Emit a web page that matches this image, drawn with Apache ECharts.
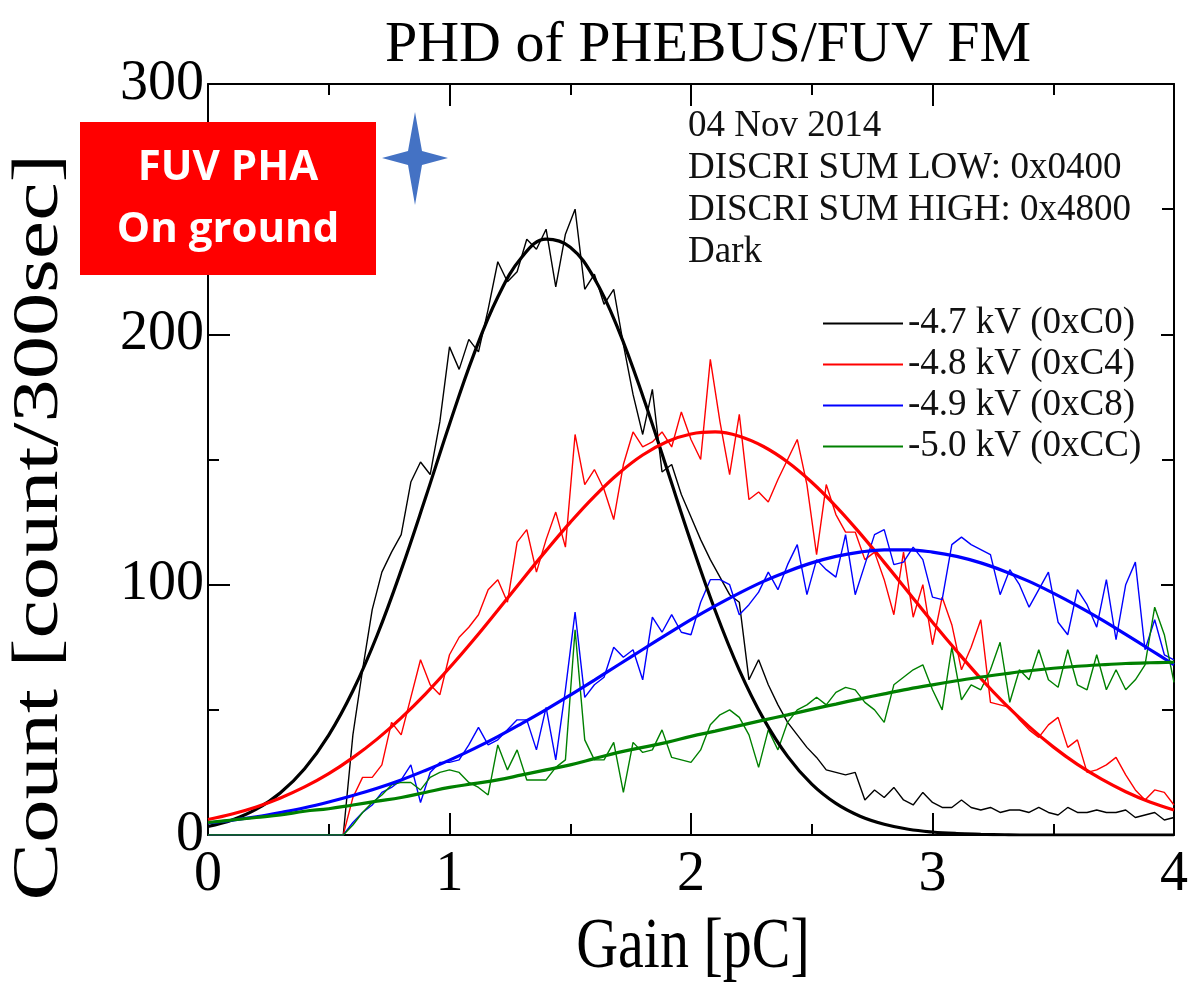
<!DOCTYPE html>
<html><head><meta charset="utf-8">
<script src="https://cdn.jsdelivr.net/npm/echarts@6/dist/echarts.min.js"></script>
<style>html,body{margin:0;padding:0;background:#fff}#c{width:1191px;height:986px}</style>
</head><body><div id="c"></div>
<script>
// Gain axis sampling of the measured histograms (pC)
const gainData = [
0,0.04,0.08,0.12,0.16,0.2,0.24,0.28,0.32,0.36,
0.4,0.44,0.48,0.52,0.56,0.6,0.64,0.68,0.72,0.76,
0.8,0.84,0.88,0.92,0.96,1,1.04,1.08,1.12,1.16,
1.2,1.24,1.28,1.32,1.36,1.4,1.44,1.48,1.52,1.56,
1.6,1.64,1.68,1.72,1.76,1.8,1.84,1.88,1.92,1.96,
2,2.04,2.08,2.12,2.16,2.2,2.24,2.28,2.32,2.36,
2.4,2.44,2.48,2.52,2.56,2.6,2.64,2.68,2.72,2.76,
2.8,2.84,2.88,2.92,2.96,3,3.04,3.08,3.12,3.16,
3.2,3.24,3.28,3.32,3.36,3.4,3.44,3.48,3.52,3.56,
3.6,3.64,3.68,3.72,3.76,3.8,3.84,3.88,3.92,3.96,
4];
const count47 = [
0,0,0,0,0,0,0,0,0,0,
0,0,0,0,0,40,66,90,105,113,
120,141,149,144,165,195,186,198,193,210,
229,221,225,238,234,242,219,240,250,218,
224,212,218,196,176,160,178,145,148,136,
127,118,110,103,96,93,62,70,60,52,
45,40,35,31,26,25,24,25,14,18,
15,19,14,12,17,13,11,11,14,11,
10,11,9,10,10,9,11,9,8,11,
9,9,10,9,9,10,7,8,9,6,
7];
const count48 = [
0,0,0,0,0,0,0,0,0,0,
0,0,0,0,0,15,23,23,28,45,
40,55,70,60,56,72,79,83,88,98,
102,93,117,122,105,118,129,115,160,140,
146,138,126,148,161,155,157,161,155,169,
158,150,190,165,144,168,134,137,133,142,
150,158,140,112,140,128,121,121,110,113,
102,88,113,87,100,76,95,84,66,75,
86,53,52,51,46,42,39,44,47,35,
38,25,26,28,31,24,18,14,18,17,
12];
const count49 = [
0,0,0,0,0,0,0,0,0,0,
0,0,0,0,0,5,9,12,17,19,
22,28,13,25,29,29,30,36,43,36,
38,42,46,46,34,51,30,58,89,55,
60,63,75,71,74,62,87,81,88,81,
80,93,102,102,100,88,92,97,105,98,
108,116,96,110,106,103,120,96,108,120,
122,108,109,115,110,95,94,116,119,116,
114,112,96,106,100,91,98,105,85,80,
98,92,83,102,78,100,109,74,86,72,
70];
const count50 = [
0,0,0,0,0,0,0,0,0,0,
0,0,0,0,0,4,9,13,16,20,
21,21,18,23,25,26,25,21,19,16,
36,26,34,22,22,22,27,30,82,38,
30,30,37,17,37,33,34,42,31,30,
29,34,44,48,50,47,40,27,42,34,
45,50,52,55,52,57,59,58,53,50,
45,60,63,66,68,58,50,75,54,60,
58,66,77,53,66,62,74,62,59,74,
60,58,72,58,66,58,62,68,91,80,
61];
// Fitted curves, read every 0.1 pC
const gainFit = [0,0.1,0.2,0.3,0.4,0.5,0.6,0.7,0.8,0.9,1,1.1,1.2,1.3,1.4,1.5,1.6,1.7,1.8,1.9,2,2.1,2.2,2.3,2.4,2.5,2.6,2.7,2.8,2.9,3,3.1,3.2,3.3,3.4,3.5,3.6,3.7,3.8,3.9,4];
const fit47 = [3.4,6.0,10.3,16.9,26.5,39.9,57.6,79.7,105.8,134.5,164.1,191.8,214.9,230.9,238.0,234.8,222.3,201.7,175.5,146.4,117.0,89.7,65.9,46.5,31.4,20.3,12.6,7.5,4.3,2.3,1.2,0.6,0.3,0.1,0,0,0,0,0,0,0];
const fit48 = [6.2,8.4,11.2,14.8,19.2,24.5,30.9,38.3,46.8,56.3,66.8,78.0,89.8,101.8,113.6,124.9,135.3,144.4,151.8,157.1,160.2,161.0,159.3,155.2,149.0,140.9,131.3,120.5,108.9,97.0,85.0,73.5,62.5,52.4,43.3,35.2,28.2,22.3,17.3,13.2,10.0];
const fit49 = [4.8,5.9,7.3,9.0,10.9,13.2,15.8,18.7,22.0,25.8,29.9,34.4,39.3,44.6,50.1,55.9,61.9,68.0,74.1,80.1,86.0,91.5,96.6,101.3,105.3,108.7,111.3,113.0,113.9,113.9,113.0,111.3,108.7,105.3,101.3,96.6,91.5,86.0,80.1,74.1,68.0];
const fit50 = [5,6,7,8,9.5,10.5,12,13.5,15,17,19,20.5,22,24,26,28,30.5,33,35,37,39.4,41.5,43.7,45.9,48,50.2,52.3,54.4,56.4,58.3,60,61.6,63.1,64.4,65.6,66.6,67.4,68.0,68.5,68.8,69];
const seriesNames = ['-4.7 kV (0xC0)','-4.8 kV (0xC4)','-4.9 kV (0xC8)','-5.0 kV (0xCC)'];
const seriesColors = ['#000000','#ff0000','#0000ff','#008000'];
const xTicks = [0,1,2,3,4];
const yTicks = [0,100,200,300];
const infoLines = ['04 Nov 2014','DISCRI SUM LOW: 0x0400','DISCRI SUM HIGH: 0x4800','Dark'];

const measured = [count47, count48, count49, count50];
const fits = [fit47, fit48, fit49, fit50];
const serif = 'Liberation Serif, Times New Roman, serif';

const series = [];
measured.forEach((arr, k) => {
  series.push({
    name: seriesNames[k], type: 'line', showSymbol: false, symbol: 'none',
    data: gainData.map((g, i) => [g, arr[i]]),
    lineStyle: { color: seriesColors[k], width: 1.4 }, itemStyle: { color: seriesColors[k] },
    z: 2
  });
});
fits.forEach((arr, k) => {
  series.push({
    name: 'fit' + k, type: 'line', showSymbol: false, symbol: 'none', smooth: 0.4,
    data: gainFit.map((g, i) => [g, arr[i]]),
    lineStyle: { color: seriesColors[k], width: 3.2 }, itemStyle: { color: seriesColors[k] },
    z: 3
  });
});

const axisCommon = {
  axisLine: { show: true, onZero: false, lineStyle: { color: '#000', width: 2 } },
  splitLine: { show: false }
};

const chart = echarts.init(document.getElementById('c'));
chart.setOption({
  animation: false,
  backgroundColor: '#fff',
  title: {
    text: 'PHD of PHEBUS/FUV FM', left: 703, top: 12, textAlign: 'center',
    textStyle: { fontFamily: serif, fontSize: 58, fontWeight: 'normal', color: '#000' }
  },
  grid: { left: 208, top: 84, width: 970, height: 751 },
  legend: {
    data: seriesNames, orient: 'vertical', left: 818, top: 300,
    icon: 'rect', itemWidth: 80, itemHeight: 2, itemGap: 4,
    textStyle: { fontFamily: serif, fontSize: 37, color: '#111', lineHeight: 37 }
  },
  xAxis: [
    Object.assign({
      type: 'value', min: xTicks[0], max: xTicks[xTicks.length - 1], interval: 1, position: 'bottom',
      axisTick: { show: true, inside: true, length: 22, lineStyle: { color: '#000', width: 2 } },
      minorTick: { show: true, splitNumber: 2, length: 11, lineStyle: { color: '#000', width: 2 } },
      axisLabel: { fontFamily: serif, fontSize: 56, color: '#000', margin: 12 }
    }, axisCommon),
    Object.assign({
      type: 'value', min: xTicks[0], max: xTicks[xTicks.length - 1], interval: 1, position: 'top',
      axisTick: { show: true, inside: true, length: 22, lineStyle: { color: '#000', width: 2 } },
      minorTick: { show: true, splitNumber: 2, length: 11, lineStyle: { color: '#000', width: 2 } },
      axisLabel: { show: false }
    }, axisCommon)
  ],
  yAxis: [
    Object.assign({
      type: 'value', min: yTicks[0], max: yTicks[yTicks.length - 1], interval: 100, position: 'left',
      axisTick: { show: true, inside: true, length: 22, lineStyle: { color: '#000', width: 2 } },
      minorTick: { show: true, splitNumber: 2, length: 11, lineStyle: { color: '#000', width: 2 } },
      axisLabel: { fontFamily: serif, fontSize: 56, color: '#000', margin: 4 }
    }, axisCommon),
    Object.assign({
      type: 'value', min: yTicks[0], max: yTicks[yTicks.length - 1], interval: 100, position: 'right',
      axisTick: { show: true, inside: true, length: 13, lineStyle: { color: '#000', width: 2 } },
      minorTick: { show: true, splitNumber: 2, length: 12, lineStyle: { color: '#000', width: 2 } },
      axisLabel: { show: false }
    }, axisCommon)
  ],
  series: series,
  graphic: [
    { type: 'text', x: 40, y: 527, rotation: Math.PI / 2, scaleX: 1.31,
      style: { text: 'Count [count/300sec]', font: '66px ' + serif, fill: '#000', textAlign: 'center', textVerticalAlign: 'middle' } },
    { type: 'text', x: 693, y: 948, scaleY: 1.25,
      style: { text: 'Gain [pC]', font: '58px ' + serif, fill: '#000', textAlign: 'center', textVerticalAlign: 'middle' } },
    { type: 'rect', shape: { x: 80, y: 122, width: 296, height: 153 }, style: { fill: '#ff0000' }, z: 10 },
    { type: 'text', x: 228, y: 168, z: 11,
      style: { text: 'FUV PHA', font: 'bold 42px "Open Sans", sans-serif', fill: '#fff', textAlign: 'center', textVerticalAlign: 'middle' } },
    { type: 'text', x: 228, y: 230, z: 11,
      style: { text: 'On ground', font: 'bold 42px "Open Sans", sans-serif', fill: '#fff', textAlign: 'center', textVerticalAlign: 'middle' } },
    { type: 'polygon', z: 10,
      shape: { points: [[415,112],[422,151],[448,158],[422,165],[415,205],[408,165],[382,158],[408,151]] },
      style: { fill: '#4472c4' } },
    { type: 'text', x: 688, y: 126, style: { text: infoLines[0], font: '37px ' + serif, fill: '#111', textVerticalAlign: 'middle' } },
    { type: 'text', x: 688, y: 168, style: { text: infoLines[1], font: '37px ' + serif, fill: '#111', textVerticalAlign: 'middle' } },
    { type: 'text', x: 688, y: 210, style: { text: infoLines[2], font: '37px ' + serif, fill: '#111', textVerticalAlign: 'middle' } },
    { type: 'text', x: 688, y: 252, style: { text: infoLines[3], font: '37px ' + serif, fill: '#111', textVerticalAlign: 'middle' } }
  ]
});
</script></body></html>
